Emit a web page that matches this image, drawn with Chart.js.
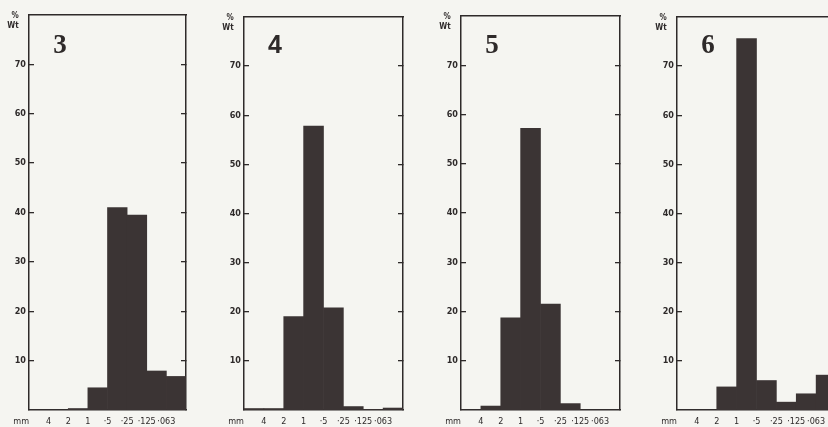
<!DOCTYPE html>
<html>
<head>
<meta charset="utf-8">
<script src="https://cdn.jsdelivr.net/npm/chart.js@4.4.0/dist/chart.umd.min.js"></script>
<style>
  html, body { margin: 0; padding: 0; background: #f5f5f1; }
  body { width: 828px; height: 427px; position: relative; overflow: hidden; }
  .panel { position: absolute; top: 0; height: 427px; }
</style>
</head>
<body>
<div class="panel" style="left:-1px;width:191px"><canvas id="p3"></canvas></div>
<div class="panel" style="left:214px;width:193px"><canvas id="p4"></canvas></div>
<div class="panel" style="left:431px;width:193px"><canvas id="p5"></canvas></div>
<div class="panel" style="left:647px;width:193px"><canvas id="p6"></canvas></div>
<script>
// grain size classes (mm), coarse to fine
const sizeBins = [">4", "4-2", "2-1", "1-·5", "·5-·25", "·25-·125", "·125-·063", "<·063"];
const boundaryLabels = ["4", "2", "1", "·5", "·25", "·125", "·063"];
const yTicks = [10, 20, 30, 40, 50, 60, 70];

// % weight in each class
const sample3 = [0, 0, 0.3, 4.5, 41, 39.5, 7.9, 6.8];
const sample4 = [0.3, 0.3, 19, 57.8, 20.8, 0.7, 0.1, 0.4];
const sample5 = [0, 0.8, 18.7, 57.2, 21.5, 1.3, 0, 0];
const sample6 = [0, 0, 4.7, 75.6, 6.0, 1.6, 3.3, 7.1];

const ink = "#2e2a2a";
const barColor = "#3b3434";
const smallFamily = '"DejaVu Sans Condensed", "Liberation Sans", sans-serif';
const smallFont = { family: smallFamily, size: 9, weight: "bold" };

const panelText = {
  id: "panelText",
  afterDraw(chart, args, opts) {
    const { ctx, chartArea } = chart;
    ctx.save();
    ctx.fillStyle = ink;
    ctx.textAlign = "center";
    ctx.textBaseline = "middle";
    ctx.font = opts.numberFont;
    ctx.fillText(opts.number, chartArea.left + 31, 46);
    ctx.font = "bold 8px " + smallFamily;
    ctx.fillText("%", chartArea.left - 14, chartArea.top + 1);
    ctx.fillText("Wt", chartArea.left - 16, chartArea.top + 11);
    ctx.restore();
  },
};

function populateHistogram(canvasId, values, number, numberFont, topPad) {
  const ctx = document.getElementById(canvasId);
  new Chart(ctx, {
    type: "bar",
    data: {
      labels: sizeBins,
      datasets: [
        {
          label: "% Wt",
          data: values.map((v, i) => ({ x: i + 0.5, y: v })),
          backgroundColor: barColor,
          borderWidth: 0,
          barPercentage: 1,
          categoryPercentage: 1,
        },
      ],
    },
    plugins: [panelText],
    options: {
      responsive: true,
      maintainAspectRatio: false,
      animation: false,
      layout: { padding: { top: topPad, right: 4, left: 0, bottom: 0 } },
      plugins: {
        legend: { display: false },
        tooltip: { enabled: false },
        panelText: { number: number, numberFont: numberFont },
      },
      scales: {
        x: {
          type: "linear",
          offset: false,
          min: 0,
          max: 8,
          grid: { display: false, drawTicks: false, offset: false },
          border: { display: true, color: ink, width: 1.5 },
          afterBuildTicks: (scale) => {
            scale.ticks = [{ value: -0.4 }].concat(boundaryLabels.map((l, i) => ({ value: i + 1 })));
          },
          afterFit: (scale) => { scale.height = 17; },
          ticks: {
            autoSkip: false,
            maxRotation: 0,
            padding: 6,
            color: ink,
            font: { family: smallFamily, size: 9, weight: "normal" },
            callback: (value) => (value < 0 ? "mm" : boundaryLabels[value - 1]),
          },
        },
        xTop: {
          type: "linear",
          position: "top",
          offset: false,
          min: 0,
          max: 8,
          grid: { display: false, drawTicks: false },
          border: { display: true, color: ink, width: 1.5 },
          ticks: { display: false },
          afterFit: (scale) => { scale.height = 0; },
        },
        y: {
          min: 0,
          max: 80,
          afterBuildTicks: (scale) => {
            scale.ticks = yTicks.map((v) => ({ value: v }));
          },
          afterFit: (scale) => { scale.width = 30; },
          grid: { drawOnChartArea: false, tickLength: -5, color: ink, lineWidth: 1.3 },
          border: { display: true, color: ink, width: 1.5 },
          ticks: {
            padding: 8,
            color: ink,
            font: smallFont,
          },
        },
        yRight: {
          position: "right",
          min: 0,
          max: 80,
          afterBuildTicks: (scale) => {
            scale.ticks = yTicks.map((v) => ({ value: v }));
          },
          afterFit: (scale) => { scale.width = 0; },
          grid: { drawOnChartArea: false, tickLength: -5, color: ink, lineWidth: 1.3 },
          border: { display: true, color: ink, width: 1.5 },
          ticks: { display: false },
        },
      },
    },
  });
}

populateHistogram("p3", sample3, "3", 'bold 27px "Liberation Serif"', 15);
populateHistogram("p4", sample4, "4", 'bold 25px "Liberation Sans"', 17);
populateHistogram("p5", sample5, "5", 'bold 27px "Liberation Serif"', 16);
populateHistogram("p6", sample6, "6", 'bold 27px "Liberation Serif"', 17);
</script>
</body>
</html>
